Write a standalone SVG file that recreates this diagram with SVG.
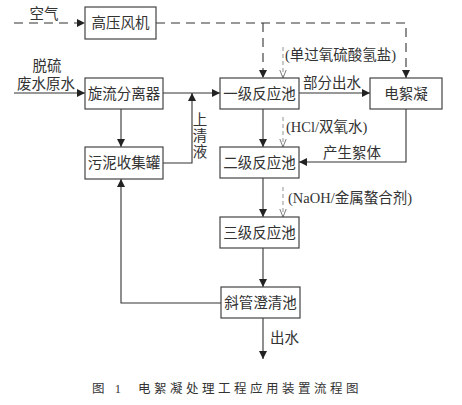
<svg xmlns="http://www.w3.org/2000/svg" width="462" height="405" viewBox="0 0 462 405">
<defs>
<marker id="ah" viewBox="0 0 10 10" refX="10" refY="5" markerWidth="8" markerHeight="8" markerUnits="userSpaceOnUse" orient="auto"><path d="M0,0 L10,5 L0,10 z" fill="#222"/></marker>
<marker id="oa" viewBox="0 0 10 10" refX="10" refY="5" markerWidth="8" markerHeight="8" markerUnits="userSpaceOnUse" orient="auto"><path d="M0,1 L10,5 L0,9" fill="none" stroke="#777" stroke-width="1.2"/></marker>
</defs>
<style>
.box{fill:#fff;stroke:#444;stroke-width:1.2}
.t{font-family:"Liberation Serif","Noto Sans CJK SC",serif;font-size:14.5px;fill:#333}
.l{font-family:"Liberation Serif","Noto Sans CJK SC",serif;font-size:14.5px;fill:#333}
.c{font-family:"Liberation Serif","Noto Sans CJK SC",serif;font-size:12.5px;fill:#333;letter-spacing:3.5px}
.ln{fill:none;stroke:#333;stroke-width:1.1}
.da{fill:none;stroke:#333;stroke-width:1.1;stroke-dasharray:9,6}
.th{fill:none;stroke:#888;stroke-width:0.9;stroke-dasharray:4,3}
</style>
<g id="connectors">
<path class="da" d="M14,23 H85" marker-end="url(#ah)"/>
<path class="da" d="M156,23 H406 V78" marker-end="url(#ah)"/>
<path class="da" d="M263,23 V78" marker-end="url(#ah)"/>
<path class="th" d="M283,47 V78" marker-end="url(#oa)"/>
<path class="ln" d="M14,93 H85" marker-end="url(#ah)"/>
<path class="ln" d="M163,93 H220" marker-end="url(#ah)"/>
<path class="ln" d="M121,109 V147" marker-end="url(#ah)"/>
<path class="ln" d="M163,163 H192 V93" marker-end="url(#ah)"/>
<path class="ln" d="M299,93 H370" marker-end="url(#ah)"/>
<path class="ln" d="M263,109 V147" marker-end="url(#ah)"/>
<path class="th" d="M283,117 V147" marker-end="url(#oa)"/>
<path class="ln" d="M406,109 V162 H299" marker-end="url(#ah)"/>
<path class="ln" d="M263,178 V217" marker-end="url(#ah)"/>
<path class="th" d="M283,187 V217" marker-end="url(#oa)"/>
<path class="ln" d="M263,248 V287" marker-end="url(#ah)"/>
<path class="ln" d="M221,303 H121 V179" marker-end="url(#ah)"/>
<path class="ln" d="M263,318 V359" marker-end="url(#ah)"/>
</g>
<g id="n-fan"><rect class="box" x="85" y="7" width="71" height="32"/><text class="t" x="120.5" y="28" text-anchor="middle">高压风机</text></g>
<g id="n-cyclone"><rect class="box" x="85" y="78" width="78" height="31"/><text class="t" x="124" y="98.5" text-anchor="middle">旋流分离器</text></g>
<g id="n-sludge"><rect class="box" x="85" y="147" width="78" height="32"/><text class="t" x="124" y="168" text-anchor="middle">污泥收集罐</text></g>
<g id="n-r1"><rect class="box" x="220" y="78" width="79" height="31"/><text class="t" x="259.5" y="98.5" text-anchor="middle">一级反应池</text></g>
<g id="n-ec"><rect class="box" x="370" y="78" width="72" height="31"/><text class="t" x="406" y="98.5" text-anchor="middle">电絮凝</text></g>
<g id="n-r2"><rect class="box" x="220" y="147" width="79" height="31"/><text class="t" x="259.5" y="167.5" text-anchor="middle">二级反应池</text></g>
<g id="n-r3"><rect class="box" x="220" y="217" width="79" height="31"/><text class="t" x="259.5" y="237.5" text-anchor="middle">三级反应池</text></g>
<g id="n-clar"><rect class="box" x="221" y="287" width="79" height="31"/><text class="t" x="260.5" y="307.5" text-anchor="middle">斜管澄清池</text></g>
<g id="labels">
<text class="l" x="44" y="19" text-anchor="middle">空气</text>
<text class="l" x="47" y="71" text-anchor="middle">脱硫</text>
<text class="l" x="46" y="89" text-anchor="middle">废水原水</text>
<text class="l" x="200" y="125" text-anchor="middle">上</text>
<text class="l" x="200" y="141" text-anchor="middle">清</text>
<text class="l" x="200" y="157" text-anchor="middle">液</text>
<text class="l" x="285" y="60">(单过氧硫酸氢盐)</text>
<text class="l" x="303" y="88">部分出水</text>
<text class="l" x="286" y="132">(HCl/双氧水)</text>
<text class="l" x="323" y="158">产生絮体</text>
<text class="l" x="288" y="203">(NaOH/金属螯合剂)</text>
<text class="l" x="270" y="343">出水</text>
<text class="c" x="92" y="393">图 1</text>
<text class="c" x="138" y="393">电絮凝处理工程应用装置流程图</text>
</g>
</svg>
